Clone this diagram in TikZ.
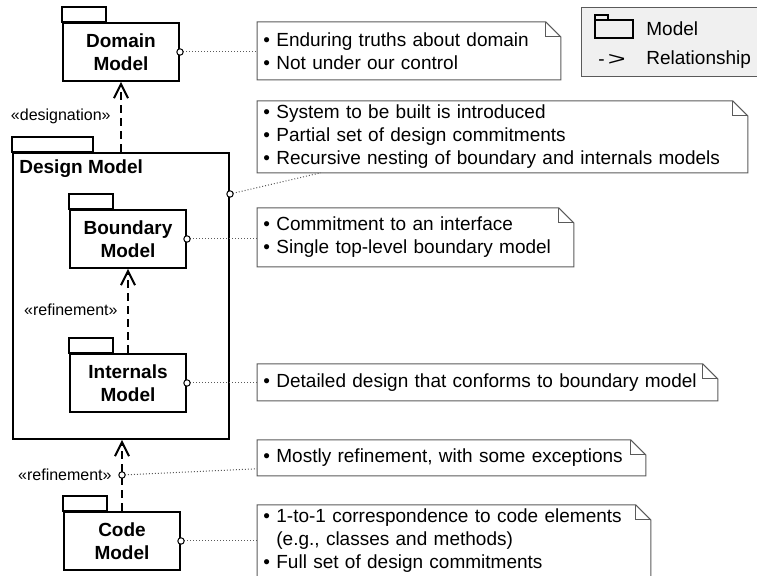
\documentclass[tikz,border=0pt]{standalone}
\usepackage{fontspec}
\setmainfont{Liberation Sans}
\usepackage{graphicx}
\usetikzlibrary{arrows.meta, calc}

\definecolor{notegray}{HTML}{5A5A5A}
\definecolor{legendfill}{HTML}{F0F0F0}

% folder tab on top of a package box
\newcommand{\pkgtab}[2]{\draw[line width=1pt] (#1.north west) rectangle ++(#2,7.5pt);}
% outline of a note with its folded corner
\newcommand{\notefold}[1]{%
  \draw[notegray, line width=0.5pt] (#1.north west) -- ([xshift=-7.5pt]#1.north east) -- ([yshift=-7.5pt]#1.north east) -- (#1.south east) -- (#1.south west) -- cycle;
  \draw[notegray, line width=0.5pt] ([xshift=-7.5pt]#1.north east) |- ([yshift=-7.5pt]#1.north east);}

\begin{document}
\begin{tikzpicture}[x=0.5pt, y=-0.5pt,
    txt/.style={inner sep=0pt, font=\fontsize{9.5}{11.5}\selectfont},
    pkg/.style={draw, line width=1pt, anchor=north west, minimum width=58pt, minimum height=29pt, align=center, inner sep=0pt, font=\fontsize{9.5}{11.5}\selectfont\bfseries},
    note/.style 2 args={anchor=north west, inner xsep=3pt, inner ysep=0pt, text width=#1, minimum height=#2, align=left, font=\fontsize{9.5}{11.5}\selectfont},
    stereo/.style={anchor=east, inner sep=0pt, font=\fontsize{8}{10}\selectfont},
    dep/.style={line width=1pt, dash pattern=on 4pt off 2.5pt, -{Straight Barb[length=7pt, width=7pt]}},
    tie/.style={notegray, line width=0.5pt, densely dotted},
    pinmark/.style={line width=0.5pt, fill=white}
]
\useasboundingbox (0,0) rectangle (757,576);

% packages
\node[pkg] (domain) at (62,22) {Domain\\Model};
\pkgtab{domain}{22pt}

\node[draw, line width=1pt, anchor=north west, minimum width=108pt, minimum height=143pt, inner sep=0pt] (design) at (12,152) {};
\pkgtab{design}{40.5pt}
\node[txt, anchor=west, font=\fontsize{9.5}{11.5}\selectfont\bfseries] (dtitle) at (19,169) {Design Model};

\node[pkg] (boundary) at (69,209) {Boundary\\Model};
\pkgtab{boundary}{22pt}
\node[pkg] (internals) at (69,353) {Internals\\Model};
\pkgtab{internals}{22pt}

\node[pkg] (code) at (63,511) {Code\\Model};
\pkgtab{code}{22pt}

% relationships
\draw[dep] (domain.south |- design.north) -- (domain.south);
\node[stereo] (desig) at (111,116) {«designation»};
\draw[dep] (internals) -- (boundary);
\node[stereo] (refin) at (118,310) {«refinement»};
\draw[dep] (code.north) -- (code.north |- design.south);
\node[stereo] (refout) at (112,475) {«refinement»};
\coordinate (refpin) at (code.north |- 0,475);

% notes
\node[note={145.5pt}{28.5pt}] (dnote) at (257,22) {\textbullet\ Enduring truths about domain\\\textbullet\ Not under our control};
\notefold{dnote}
\node[note={239pt}{35.5pt}] (snote) at (257,101) {\textbullet\ System to be built is introduced\\\textbullet\ Partial set of design commitments\\\textbullet\ Recursive nesting of boundary and internals models};
\notefold{snote}
\node[note={152pt}{29pt}] (bnote) at (257,208) {\textbullet\ Commitment to an interface\\\textbullet\ Single top-level boundary model};
\notefold{bnote}
\node[note={224pt}{18pt}] (inote) at (257,364) {\textbullet\ Detailed design that conforms to boundary model};
\notefold{inote}
\node[note={188pt}{17.5pt}] (mnote) at (257,440) {\textbullet\ Mostly refinement, with some exceptions};
\notefold{mnote}
\node[note={190.5pt}{35.5pt}] (cnote) at (257,505) {\textbullet\ 1-to-1 correspondence to code elements\\\phantom{\textbullet\ }(e.g., classes and methods)\\\textbullet\ Full set of design commitments};
\notefold{cnote}

% note ties
\coordinate (dpin) at (design.east |- 0,194);
\coordinate (spt) at ($(snote.south west)!0.13!(snote.south east)$);
\draw[tie] (domain.east) -- (domain.east -| dnote.west);
\draw[tie] (dpin) -- (spt);
\draw[tie] (boundary.east) -- (boundary.east -| bnote.west);
\draw[tie] (internals.east) -- (internals.east -| inote.west);
\draw[tie] (refpin) -- ([yshift=3.5pt]mnote.south west);
\draw[tie] (code.east) -- (code.east -| cnote.west);
\foreach \p in {domain.east, dpin, boundary.east, internals.east, refpin, code.east}
  \draw[pinmark] (\p) circle (1.6pt);

% legend
\node[draw=notegray, line width=0.5pt, fill=legendfill, anchor=north west, minimum width=92pt, minimum height=34.5pt, inner sep=0pt] (legend) at (581,7) {};
\draw[line width=0.8pt] (595,20) rectangle (633,38);
\draw[line width=0.8pt] (595,20) rectangle (608,15);
\node[txt, anchor=west] (lgmodel) at (646,29) {Model};
\node[txt, anchor=west] (lgarrow) at (598,60) {-\,\scalebox{1.6}[1]{>}};
\node[txt, anchor=west] (lgrel) at (646,60) {Relationship};
\end{tikzpicture}
\end{document}
